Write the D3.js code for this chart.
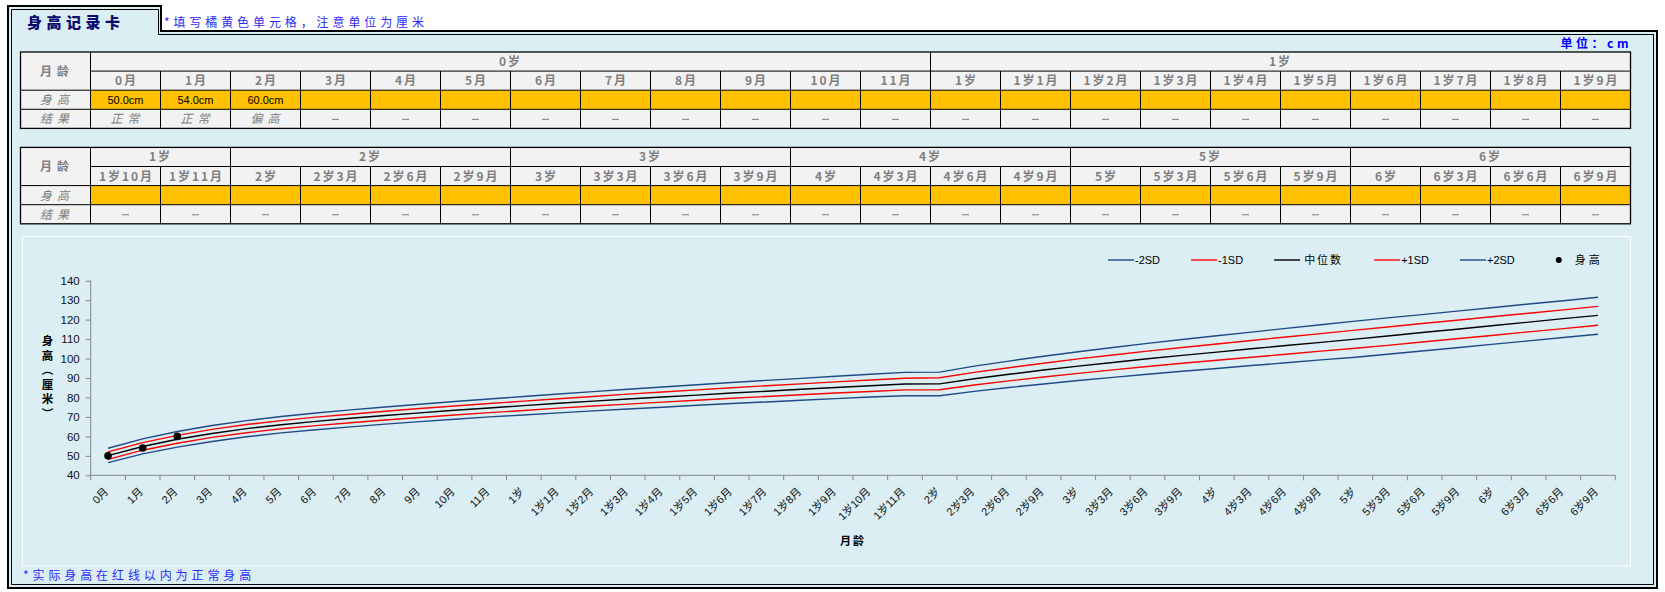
<!DOCTYPE html>
<html><head><meta charset="utf-8">
<script src="https://cdn.jsdelivr.net/npm/d3@7"></script>
<style>
body{margin:0;background:#fff;}
svg{display:block;}
</style></head><body>
<svg id="c" width="1665" height="592"></svg>
<script>
// ---------- data ----------
const table1Cols = ["0月","1月","2月","3月","4月","5月","6月","7月","8月","9月","10月","11月","1岁","1岁1月","1岁2月","1岁3月","1岁4月","1岁5月","1岁6月","1岁7月","1岁8月","1岁9月"];
const table2Cols = ["1岁10月","1岁11月","2岁","2岁3月","2岁6月","2岁9月","3岁","3岁3月","3岁6月","3岁9月","4岁","4岁3月","4岁6月","4岁9月","5岁","5岁3月","5岁6月","5岁9月","6岁","6岁3月","6岁6月","6岁9月"];
const table1Groups = ["0岁","1岁"];
const table1Spans = [12,10];
const table2Groups = ["1岁","2岁","3岁","4岁","5岁","6岁"];
const table2Spans = [2,4,4,4,4,4];
const rowLabels = ["月龄","身高","结果"];
const ageLabels = table1Cols.concat(table2Cols);
const measured = [50.0, 54.0, 60.0];
const results = ["正常","正常","偏高"];
const sdMinus2 = [46.5,51.0,54.5,57.4,59.8,61.8,63.4,64.9,66.3,67.6,68.8,70.0,71.0,72.1,73.1,74.1,75.0,76.0,76.9,77.7,78.6,79.4,80.2,80.9,80.9,83.1,85.1,86.9,88.7,90.3,91.9,93.5,94.9,96.4,97.8,99.3,100.7,102.3,104.0,105.7,107.4,109.1,110.8,112.5];
const sdMinus1 = [48.2,52.9,56.5,59.5,61.9,63.9,65.5,67.0,68.4,69.7,71.0,72.2,73.3,74.5,75.6,76.6,77.6,78.6,79.6,80.5,81.4,82.3,83.1,83.9,84.0,86.4,88.5,90.5,92.4,94.2,95.9,97.6,99.1,100.7,102.2,103.8,105.3,106.9,108.6,110.3,112.0,113.7,115.4,117.1];
const median   = [50.1,54.8,58.5,61.5,64.0,66.0,67.7,69.3,70.7,72.1,73.4,74.6,75.8,77.0,78.1,79.2,80.2,81.2,82.3,83.2,84.2,85.1,86.0,86.9,87.0,89.6,91.9,94.1,96.1,98.0,99.9,101.6,103.3,105.0,106.7,108.3,110.0,111.7,113.5,115.2,117.0,118.7,120.5,122.2];
const sdPlus1  = [52.0,56.8,60.5,63.6,66.1,68.1,69.9,71.4,72.9,74.3,75.6,76.9,78.1,79.3,80.5,81.7,82.8,83.9,85.0,86.0,87.0,88.0,89.0,89.9,90.1,92.9,95.3,97.6,99.8,101.8,103.8,105.7,107.5,109.3,111.1,112.8,114.6,116.3,118.1,119.8,121.6,123.3,125.0,126.8];
const sdPlus2  = [53.9,58.7,62.5,65.6,68.1,70.2,72.0,73.6,75.1,76.5,77.9,79.2,80.5,81.8,83.0,84.2,85.4,86.5,87.7,88.8,89.8,90.9,91.9,92.9,93.0,96.1,98.7,101.2,103.5,105.7,107.8,109.8,111.7,113.6,115.5,117.4,119.2,121.0,122.7,124.5,126.2,128.0,129.7,131.5];
const yTicks = [40,50,60,70,80,90,100,110,120,130,140];
const seriesNames = ["-2SD","-1SD","中位数","+1SD","+2SD"];
const pointName = "身高";

// ---------- styles ----------
const BG = "#DAEEF3";
const BLUE = "#1F4A86", RED = "#FF0000", BLACK = "#000000";
const seriesColors = [BLUE, RED, BLACK, RED, BLUE];
const CJK = "'Noto Sans CJK SC', sans-serif";
const LAT = "'Liberation Sans', 'Noto Sans CJK SC', sans-serif";
const GRAY = "#7F7F7F";

const svg = d3.select("#c");

// ---------- frame ----------
svg.append("path").attr("d","M8,588V6H161V31H1657V588Z").attr("fill",BG).attr("stroke","#000").attr("stroke-width",2);
svg.append("path").attr("d","M11.5,584.5V9.5H158.5V34.5H1653.5V584.5Z").attr("fill","none").attr("stroke","#000").attr("stroke-width",1);

svg.append("text").attr("x",27).attr("y",28).text("身高记录卡")
  .attr("font-family",CJK).attr("font-size",15).attr("font-weight",900).attr("letter-spacing",4.5).attr("fill","#0B0B70");
svg.append("text").attr("x",164).attr("y",27).text("*填写橘黄色单元格，注意单位为厘米")
  .attr("font-family",CJK).attr("font-size",12).attr("letter-spacing",3.9).attr("fill","#2B2BF5");
svg.append("text").attr("x",1632).attr("y",48).attr("text-anchor","end").text("单位：cm")
  .attr("font-family",CJK).attr("font-size",12).attr("font-weight",700).attr("letter-spacing",3.5).attr("fill","#0000FF");

// ---------- tables ----------
function drawTable(top, cols, groups, spans, vals, res){
  const g = svg.append("g");
  const rh = 19.1;
  const x = d3.scaleBand().domain(cols).range([90.5,1630.5]);
  const left = 20.5, right = 1630.5;
  const rowY = d3.range(5).map(i=>top+i*rh);
  g.append("rect").attr("x",left).attr("y",top).attr("width",right-left).attr("height",rh*4).attr("fill","#F2F2F2");
  g.append("rect").attr("x",90.5).attr("y",rowY[2]).attr("width",right-90.5).attr("height",rh).attr("fill","#FFC000");
  let start = 0;
  groups.forEach((gname,i)=>{
    const x0 = x(cols[start]), x1 = x(cols[start+spans[i]-1]) + x.bandwidth();
    g.append("text").attr("x",(x0+x1)/2).attr("y",rowY[0]+rh/2+4.5).attr("text-anchor","middle").text(gname)
      .attr("font-family",CJK).attr("font-size",12).attr("font-weight",700).attr("letter-spacing",2).attr("fill",GRAY);
    if(start>0) g.append("line").attr("x1",x0).attr("x2",x0).attr("y1",rowY[0]).attr("y2",rowY[1]).attr("stroke","#000");
    start += spans[i];
  });
  cols.forEach((c,i)=>{
    const cx = x(c)+x.bandwidth()/2;
    g.append("text").attr("x",cx+1).attr("y",rowY[1]+rh/2+4.5).attr("text-anchor","middle").text(c)
      .attr("font-family",CJK).attr("font-size",12).attr("font-weight",700).attr("letter-spacing",2).attr("fill",GRAY);
    const v = vals[i];
    if(v!=null) g.append("text").attr("x",cx).attr("y",rowY[2]+rh/2+4).attr("text-anchor","middle").text(v.toFixed(1)+"cm")
      .attr("font-family",LAT).attr("font-size",11).attr("fill","#000");
    if(res[i]!=null) g.append("text").attr("x",cx+2).attr("y",rowY[3]+rh/2+4.5).attr("text-anchor","middle").text(res[i])
      .attr("font-family",CJK).attr("font-size",12).attr("font-style","italic").attr("letter-spacing",5).attr("fill",GRAY);
    else g.append("line").attr("x1",cx-3.5).attr("x2",cx+3.5).attr("y1",rowY[3]+rh/2+0.5).attr("y2",rowY[3]+rh/2+0.5).attr("stroke",GRAY).attr("stroke-width",1);
    if(i>0) g.append("line").attr("x1",x(c)).attr("x2",x(c)).attr("y1",rowY[1]).attr("y2",rowY[4]).attr("stroke","#000");
  });
  g.append("text").attr("x",57).attr("y",rowY[1]+4.5).attr("text-anchor","middle").text(rowLabels[0])
    .attr("font-family",CJK).attr("font-size",12).attr("font-weight",700).attr("letter-spacing",5).attr("fill",GRAY);
  [1,2].forEach(k=>{
    g.append("text").attr("x",57).attr("y",rowY[k+1]+rh/2+4.5).attr("text-anchor","middle").text(rowLabels[k])
      .attr("font-family",CJK).attr("font-size",12).attr("font-style","italic").attr("letter-spacing",5).attr("fill",GRAY);
  });
  g.append("line").attr("x1",90.5).attr("x2",right).attr("y1",rowY[1]).attr("y2",rowY[1]).attr("stroke","#000");
  [2,3].forEach(k=>g.append("line").attr("x1",left).attr("x2",right).attr("y1",rowY[k]).attr("y2",rowY[k]).attr("stroke","#000"));
  g.append("line").attr("x1",90.5).attr("x2",90.5).attr("y1",rowY[0]).attr("y2",rowY[4]).attr("stroke","#000");
  g.append("rect").attr("x",left).attr("y",top).attr("width",right-left).attr("height",rh*4).attr("fill","none").attr("stroke","#000").attr("stroke-width",1.3);
}
const vals1 = table1Cols.map((c,i)=> i<measured.length ? measured[i] : null);
const res1 = table1Cols.map((c,i)=> i<results.length ? results[i] : null);
drawTable(52, table1Cols, table1Groups, table1Spans, vals1, res1);
drawTable(147.4, table2Cols, table2Groups, table2Spans, table2Cols.map(()=>null), table2Cols.map(()=>null));

// ---------- chart ----------
svg.append("rect").attr("x",22.5).attr("y",236.5).attr("width",1608).attr("height",329.5).attr("fill",BG).attr("stroke","#fff").attr("stroke-width",1);

const x = d3.scaleBand().domain(ageLabels).range([90.7,1615.3]);
const y = d3.scaleLinear().domain([40,140]).range([475.3,280.7]);
const cx = d => x(d)+x.bandwidth()/2;

const yAxis = svg.append("g").attr("transform","translate(90.7,0)")
  .call(d3.axisLeft(y).tickValues(yTicks).tickSize(5).tickPadding(6));
yAxis.selectAll("path,line").attr("stroke","#868686");
yAxis.select(".domain").attr("d","M0,280.7V475.3");
yAxis.selectAll("text").attr("font-family",LAT).attr("font-size",11.5).attr("fill","#111");

const xAxis = svg.append("g").attr("transform","translate(0,475.3)");
xAxis.append("line").attr("x1",90.7).attr("x2",1615.3).attr("stroke","#868686");
xAxis.selectAll("line.tk").data(ageLabels.concat(["__end"])).enter().append("line").attr("class","tk")
  .attr("x1",(d,i)=> i<ageLabels.length ? x(d) : 1615.3).attr("x2",(d,i)=> i<ageLabels.length ? x(d) : 1615.3)
  .attr("y1",0).attr("y2",5).attr("stroke","#868686");
xAxis.selectAll("text").data(ageLabels).enter().append("text")
  .attr("transform",d=>`translate(${cx(d)+1},${17}) rotate(-45)`)
  .attr("text-anchor","end").text(d=>d)
  .attr("font-family",LAT).attr("font-size",11).attr("fill","#111");

// axis titles
svg.append("text").attr("x",47.5).attr("y",335).text("身高（厘米）")
  .style("writing-mode","vertical-rl").attr("font-family",CJK).attr("font-size",11.5).attr("font-weight",700)
  .attr("letter-spacing",3).attr("fill","#000");
svg.append("text").attr("x",853).attr("y",545).attr("text-anchor","middle").text("月龄")
  .attr("font-family",CJK).attr("font-size",11).attr("font-weight",700).attr("letter-spacing",2).attr("fill","#000");

// lines
const series = [sdMinus2, sdMinus1, median, sdPlus1, sdPlus2];
const line = d3.line().x((d,i)=>cx(ageLabels[i])).y(d=>y(d));
svg.append("g").selectAll("path").data(series).enter().append("path")
  .attr("d",d=>line(d)).attr("fill","none").attr("stroke",(d,i)=>seriesColors[i]).attr("stroke-width",1.4);

svg.append("g").selectAll("circle").data(measured).enter().append("circle")
  .attr("cx",(d,i)=>cx(ageLabels[i])).attr("cy",d=>y(d)).attr("r",3.8).attr("fill","#000");

// legend
const lg = svg.append("g");
let lx = 1108;
const ly = 260;
seriesNames.forEach((n,i)=>{
  lg.append("line").attr("x1",lx).attr("x2",lx+26).attr("y1",ly).attr("y2",ly).attr("stroke",seriesColors[i]).attr("stroke-width",1.4);
  const t = lg.append("text").attr("x",lx+27 + (i===2?3:0)).attr("y",ly+4).text(n)
    .attr("font-family",i===2?CJK:LAT).attr("font-size",11).attr("letter-spacing",i===2?2:0).attr("fill","#000");
  lx = lx + 27 + (i===2?3:0) + t.node().getComputedTextLength() + 31;
});
lg.append("circle").attr("cx",lx+13).attr("cy",ly).attr("r",3).attr("fill","#000");
lg.append("text").attr("x",lx+29).attr("y",ly+4).text(pointName).attr("font-family",CJK).attr("font-size",11).attr("letter-spacing",3).attr("fill","#000");

// footer
svg.append("text").attr("x",23).attr("y",580).text("*实际身高在红线以内为正常身高")
  .attr("font-family",CJK).attr("font-size",12).attr("letter-spacing",3.9).attr("fill","#2B2BF5");
</script>
</body></html>
